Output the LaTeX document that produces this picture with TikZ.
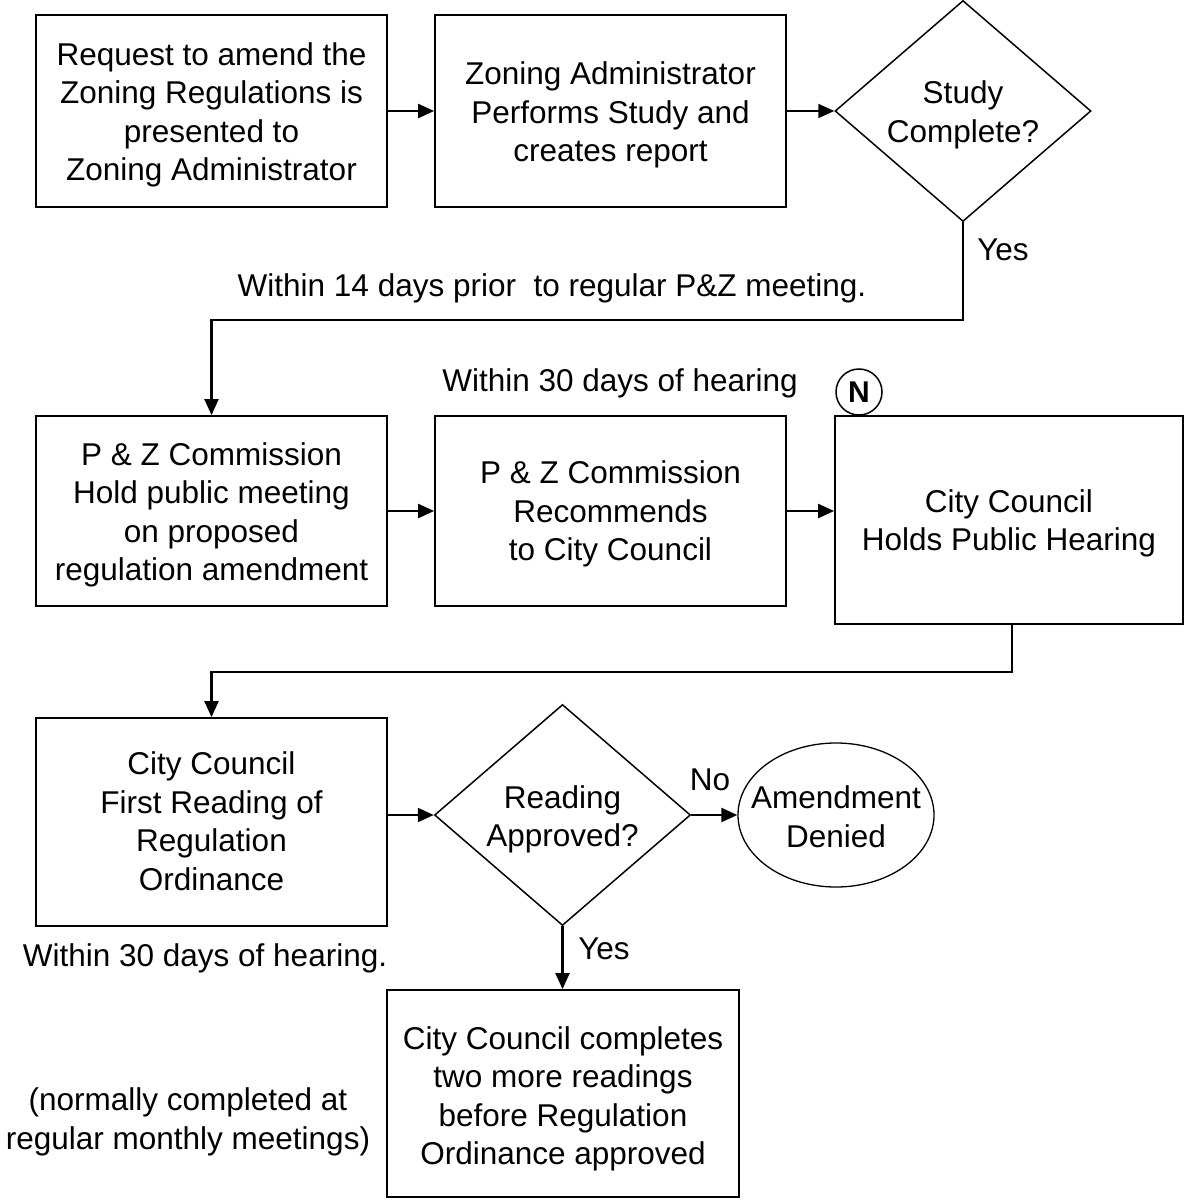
\documentclass[tikz,border=0pt]{standalone}
\usepackage{fontspec}
\setmainfont{Liberation Sans}
\usetikzlibrary{shapes.geometric,arrows.meta,calc}
\newcommand\boxtext[2][4.5pt]{\raisebox{-#1}[\height][\depth]{\begin{tabular}{@{}c@{}}#2\end{tabular}}}
\begin{document}
\begin{tikzpicture}[x=1pt,y=-1pt,
  font=\fontsize{31.5}{38.5}\selectfont,
  stepbox/.style={draw, line width=1.8pt, minimum width=351pt, align=center, inner sep=0pt},
  decide/.style={draw, diamond, line width=1.5pt, minimum width=256pt, minimum height=221pt, inner sep=0pt, aspect=1.16, align=center},
  endnode/.style={draw, ellipse, line width=1.3pt, minimum width=196pt, minimum height=144pt, inner xsep=-16pt, inner ysep=0pt, align=center},
  conn/.style={line width=2.2pt, -{Triangle[length=16pt,width=14pt]}},
  lbl/.style={align=center, inner sep=0pt}
]
\useasboundingbox (0,0) rectangle (1192,1204);

\node[stepbox, minimum height=192pt] (b1) at (211.5,111) {\boxtext{Request to amend the\\Zoning Regulations is\\presented to\\Zoning Administrator}};
\node[stepbox, minimum height=192pt] (b2) at (610.5,111) {\boxtext{Zoning Administrator\\Performs Study and\\creates report}};
\node[decide] (d1) at (963,111) {\boxtext{Study\\Complete?}};

\node[stepbox, minimum height=190pt] (b3) at (211.5,511) {\boxtext{P \& Z Commission\\Hold public meeting\\on proposed\\regulation amendment}};
\node[stepbox, minimum height=190pt] (b4) at (610.5,511) {\boxtext[3.5pt]{P \& Z Commission\\Recommends\\to City Council}};
\node[stepbox, minimum width=348pt, minimum height=208pt] (b5) at (1009,520) {\boxtext[4pt]{City Council\\Holds Public Hearing}};
\node[circle, draw, line width=1.5pt, minimum size=46pt, inner sep=0pt, font=\fontsize{30}{36}\selectfont\bfseries] (N) at (859,392) {N};

\node[stepbox, minimum height=208pt] (b6) at (211.5,822) {\boxtext[3pt]{City Council\\First Reading of\\Regulation\\Ordinance}};
\node[decide] (d2) at (562.5,815) {\boxtext[5pt]{Reading\\Approved?}};
\node[endnode] (e1) at (836,815) {\boxtext[5.5pt]{Amendment\\Denied}};
\node[stepbox, minimum width=352pt, minimum height=207pt] (b7) at (563,1093.5) {\boxtext[6pt]{City Council completes\\two more readings\\before Regulation\\Ordinance approved}};

\node[lbl] (yes1) at (1003,250) {Yes};
\node[lbl] (t14) at (552,288) {Within 14 days prior\ \ to regular P\&Z meeting.};
\node[lbl] (t30a) at (620,383) {Within 30 days of hearing};
\node[lbl] (no1) at (710,780) {No};
\node[lbl] (yes2) at (604,949) {Yes};
\node[lbl] (t30b) at (205,958) {Within 30 days of hearing.};
\node[lbl] (tnorm) at (188,1122) {(normally completed at\\regular monthly meetings)};

\draw[conn] (b1.east) -- (b2.west);
\draw[conn] (b2.east) -- (d1.west);
\draw[conn] (d1.south) -- ++(0,98) -| (b3.north);
\draw[conn] (b3.east) -- (b4.west);
\draw[conn] (b4.east) -- (b4.east -| b5.west);
\draw[conn] ([xshift=3pt]b5.south) -- ++(0,47) -| (b6.north);
\draw[conn] (b6.east |- d2.west) -- (d2.west);
\draw[conn] (d2.east) -- (e1.west);
\draw[conn] (d2.south) -- (d2.south |- b7.north);
\end{tikzpicture}
\end{document}
